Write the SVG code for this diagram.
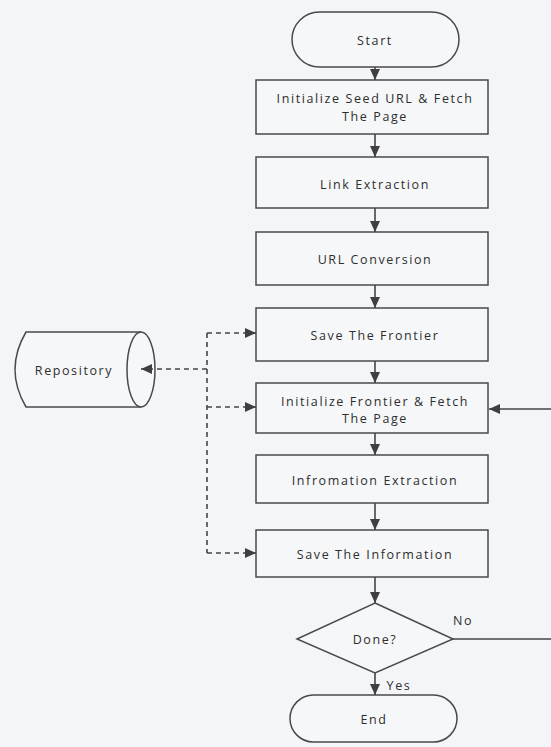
<svg xmlns="http://www.w3.org/2000/svg" width="551" height="747" viewBox="0 0 551 747">
<style>
.bg{fill:#f3f5f8}
.shape{fill:#f6f7f8;stroke:#4a4a4a;stroke-width:1.5}
.lbl{font-family:"Open Sans","Liberation Sans",sans-serif;font-size:12.5px;fill:#2e2e2e;text-anchor:middle;dominant-baseline:central;letter-spacing:1.6px}
.flow{fill:none;stroke:#454545;stroke-width:1.6}
.dash{fill:none;stroke:#454545;stroke-width:1.6;stroke-dasharray:5 4}
</style>
<defs>
<marker id="ah" markerUnits="userSpaceOnUse" markerWidth="12" markerHeight="12" refX="11" refY="6" orient="auto">
<path d="M0,1 L11,6 L0,11 Z" fill="#3f3f3f"/>
</marker>
</defs>
<rect class="bg" x="0" y="0" width="551" height="747"/>
<g id="repository">
<path class="shape" d="M26,332 H141 A14,37.5 0 0 1 141,407 H26 Q4,369.5 26,332 Z"/>
<path class="shape" d="M141,332 A14,37.5 0 0 0 141,407" fill="none"/>
<text class="lbl" x="74" y="370">Repository</text>
</g>
<g id="start">
<rect class="shape" x="292" y="12" width="167" height="55" rx="27.5"/>
<text class="lbl" x="375" y="40">Start</text>
</g>
<g id="seed">
<rect class="shape" x="256" y="80" width="232" height="54"/>
<text class="lbl" x="375" y="98">Initialize Seed URL &amp; Fetch</text>
<text class="lbl" x="375" y="116">The Page</text>
</g>
<g id="link">
<rect class="shape" x="256" y="157" width="232" height="51"/>
<text class="lbl" x="375" y="184">Link Extraction</text>
</g>
<g id="url">
<rect class="shape" x="256" y="232" width="232" height="53"/>
<text class="lbl" x="375" y="259">URL Conversion</text>
</g>
<g id="savefrontier">
<rect class="shape" x="256" y="308" width="232" height="53"/>
<text class="lbl" x="375" y="335">Save The Frontier</text>
</g>
<g id="initfrontier">
<rect class="shape" x="256" y="383" width="232" height="50"/>
<text class="lbl" x="375" y="401">Initialize Frontier &amp; Fetch</text>
<text class="lbl" x="375" y="418">The Page</text>
</g>
<g id="infoextract">
<rect class="shape" x="256" y="455" width="232" height="48"/>
<text class="lbl" x="375" y="480">Infromation Extraction</text>
</g>
<g id="saveinfo">
<rect class="shape" x="256" y="530" width="232" height="47"/>
<text class="lbl" x="375" y="554">Save The Information</text>
</g>
<g id="done">
<polygon class="shape" points="375,603 453,639 375,673 297,639"/>
<text class="lbl" x="375" y="639">Done?</text>
</g>
<g id="end">
<rect class="shape" x="290" y="695" width="167" height="47" rx="23.5"/>
<text class="lbl" x="374" y="719">End</text>
</g>
<g id="connectors">
<line class="flow" x1="375" y1="67" x2="375" y2="80" marker-end="url(#ah)"/>
<line class="flow" x1="375" y1="134" x2="375" y2="157" marker-end="url(#ah)"/>
<line class="flow" x1="375" y1="208" x2="375" y2="232" marker-end="url(#ah)"/>
<line class="flow" x1="375" y1="285" x2="375" y2="308" marker-end="url(#ah)"/>
<line class="flow" x1="375" y1="361" x2="375" y2="383" marker-end="url(#ah)"/>
<line class="flow" x1="375" y1="433" x2="375" y2="455" marker-end="url(#ah)"/>
<line class="flow" x1="375" y1="503" x2="375" y2="530" marker-end="url(#ah)"/>
<line class="flow" x1="375" y1="577" x2="375" y2="603" marker-end="url(#ah)"/>
<line class="flow" x1="375" y1="673" x2="375" y2="695" marker-end="url(#ah)"/>
<path class="flow" d="M453,639 H560 V409 H489" marker-end="url(#ah)"/>
<path class="dash" d="M207,333 V553"/>
<line class="dash" x1="207" y1="333" x2="256" y2="333" marker-end="url(#ah)"/>
<line class="dash" x1="207" y1="407" x2="256" y2="407" marker-end="url(#ah)"/>
<line class="dash" x1="207" y1="553" x2="256" y2="553" marker-end="url(#ah)"/>
<line class="dash" x1="207" y1="369" x2="141" y2="369" marker-end="url(#ah)"/>
<text class="lbl" x="463" y="620">No</text>
<text class="lbl" x="399" y="685">Yes</text>
</g>
</svg>
